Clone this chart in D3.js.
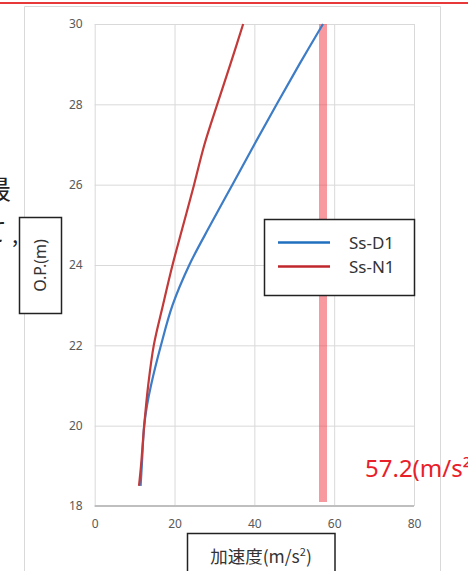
<!DOCTYPE html>
<html><head><meta charset="utf-8">
<script src="https://cdn.jsdelivr.net/npm/d3@7"></script>
<style>
html,body{margin:0;padding:0;background:#fff;overflow:hidden;}
svg{display:block;}
text{font-family:"Noto Sans CJK JP","Noto Sans",sans-serif;}
</style></head>
<body>
<script>
// ---- data ----
const depthD1 = [18.5, 19, 20, 20.5, 21, 22, 23, 24, 25, 26, 27, 28, 29, 30];
const accD1   = [11.5, 11.8, 12.4, 13.1, 14.1, 16.6, 19.5, 23.7, 29.0, 34.5, 40.0, 45.6, 51.3, 57.2];
const depthN1 = [18.5, 19, 20, 21, 22, 23, 24, 25, 26, 27, 28, 29, 30];
const accN1   = [11.1, 11.6, 12.4, 13.4, 14.8, 17.1, 19.5, 22.2, 24.9, 27.5, 30.7, 34.0, 37.2];
const seriesNames = ["Ss-D1", "Ss-N1"];
const xTicks = [0, 20, 40, 60, 80];
const yTicks = [18, 20, 22, 24, 26, 28, 30];
const limitValue = 57.2;
const limitRange = [18.1, 30];
const limitLabel = "57.2(m/s²)";

const W = 468, H = 571;
const svg = d3.select("body").append("svg").attr("width", W).attr("height", H);

// outer decorations
svg.append("line").attr("x1", 0).attr("x2", W).attr("y1", 3).attr("y2", 3)
  .attr("stroke", "#e8393a").attr("stroke-width", 2);
svg.append("path").attr("d", `M24.5,${H} V6.5 H440.5 V${H}`)
  .attr("fill", "none").attr("stroke", "#d9d9d9").attr("stroke-width", 1);
// cut-off background text at left
svg.append("text").attr("x", 11).attr("y", 199).attr("text-anchor", "end")
  .attr("font-size", 26).attr("fill", "#222").text("最");
svg.append("text").attr("x", 7).attr("y", 241).attr("text-anchor", "end")
  .attr("font-size", 26).attr("fill", "#222").text("て");
svg.append("text").attr("x", 12).attr("y", 243)
  .attr("font-size", 22).attr("fill", "#222").text(",");

const x = d3.scaleLinear().domain([0, 80]).range([94.7, 414]);
const y = d3.scaleLinear().domain([18, 30]).range([506, 24]);

// gridlines
const gx = svg.append("g").attr("transform", "translate(0,506)")
  .call(d3.axisBottom(x).tickValues(xTicks).tickSize(-(506 - 24)).tickFormat(""));
gx.select(".domain").remove();
gx.selectAll("line").attr("stroke", "#d9d9d9").attr("stroke-width", 1);
const gy = svg.append("g").attr("transform", "translate(94.7,0)")
  .call(d3.axisLeft(y).tickValues(yTicks).tickSize(-(414 - 94.7)).tickFormat(""));
gy.select(".domain").remove();
gy.selectAll("line").attr("stroke", "#d9d9d9").attr("stroke-width", 1);

// bottom axis line
svg.append("line").attr("x1", x(0)).attr("x2", x(80)).attr("y1", y(18)).attr("y2", y(18))
  .attr("stroke", "#bfbfbf").attr("stroke-width", 2);

// tick labels
const ax = svg.append("g").attr("transform", "translate(0,506)")
  .call(d3.axisBottom(x).tickValues(xTicks).tickSize(0).tickPadding(13));
ax.select(".domain").remove();
ax.selectAll("text").attr("font-size", 12).attr("fill", "#595959")
  .style("font-family", '"Noto Sans","Noto Sans CJK JP",sans-serif');
const ay = svg.append("g").attr("transform", "translate(94.7,0)")
  .call(d3.axisLeft(y).tickValues(yTicks).tickSize(0).tickPadding(12));
ay.select(".domain").remove();
ay.selectAll("text").attr("font-size", 12).attr("fill", "#595959")
  .style("font-family", '"Noto Sans","Noto Sans CJK JP",sans-serif');

// limit bar
svg.append("rect").attr("x", x(limitValue) - 4).attr("width", 8)
  .attr("y", y(limitRange[1])).attr("height", y(limitRange[0]) - y(limitRange[1]))
  .attr("fill", "rgb(240,70,80)").attr("fill-opacity", 0.55);

// series lines
const colors = ["#3d7cc6", "#c23a39"];
const legendColors = ["#1f6fbe", "#c0272d"];
const lineGen = d3.line().x(d => x(d[0])).y(d => y(d[1])).curve(d3.curveCatmullRom.alpha(0.5));
const sD1 = accD1.map((a, i) => [a, depthD1[i]]);
const sN1 = accN1.map((a, i) => [a, depthN1[i]]);
svg.append("path").datum(sD1).attr("d", lineGen).attr("fill", "none")
  .attr("stroke", colors[0]).attr("stroke-width", 2.2).attr("stroke-linejoin", "round");
svg.append("path").datum(sN1).attr("d", lineGen).attr("fill", "none")
  .attr("stroke", colors[1]).attr("stroke-width", 2.2).attr("stroke-linejoin", "round");

// legend
svg.append("rect").attr("x", 264.5).attr("y", 219.5).attr("width", 150).attr("height", 76)
  .attr("fill", "#fff").attr("stroke", "#222").attr("stroke-width", 1.5);
seriesNames.forEach((n, i) => {
  const yy = 242.5 + i * 24;
  svg.append("line").attr("x1", 278).attr("x2", 330).attr("y1", yy).attr("y2", yy)
    .attr("stroke", legendColors[i]).attr("stroke-width", 2.5);
  svg.append("text").attr("x", 349).attr("y", yy + 6).attr("font-size", 17)
    .attr("fill", "#333").style("font-family", '"Noto Sans","Noto Sans CJK JP",sans-serif').text(n);
});

// y title box
svg.append("rect").attr("x", 19.5).attr("y", 217.5).attr("width", 42).attr("height", 96)
  .attr("fill", "#fff").attr("stroke", "#222").attr("stroke-width", 1.5);
svg.append("text").attr("transform", "translate(46,265.5) rotate(-90)")
  .attr("text-anchor", "middle").attr("font-size", 16).attr("fill", "#333")
  .style("font-family", '"Noto Sans","Noto Sans CJK JP",sans-serif').text("O.P.(m)");

// x title box
svg.append("rect").attr("x", 187.5).attr("y", 533.5).attr("width", 147.5).attr("height", 60)
  .attr("fill", "#fff").attr("stroke", "#222").attr("stroke-width", 1.5);
const xt = svg.append("text").attr("x", 261).attr("y", 563).attr("text-anchor", "middle")
  .attr("font-size", 17.5).attr("fill", "#333");
xt.append("tspan").text("加速度(m/s");
xt.append("tspan").attr("font-size", 11).attr("dy", -7).text("2");
xt.append("tspan").attr("dy", 7).text(")");

// limit label
svg.append("text").attr("x", 365).attr("y", 477).attr("font-size", 24).attr("fill", "#e8202a")
  .style("font-family", '"Noto Sans","Noto Sans CJK JP",sans-serif').text(limitLabel);
</script>
</body></html>
